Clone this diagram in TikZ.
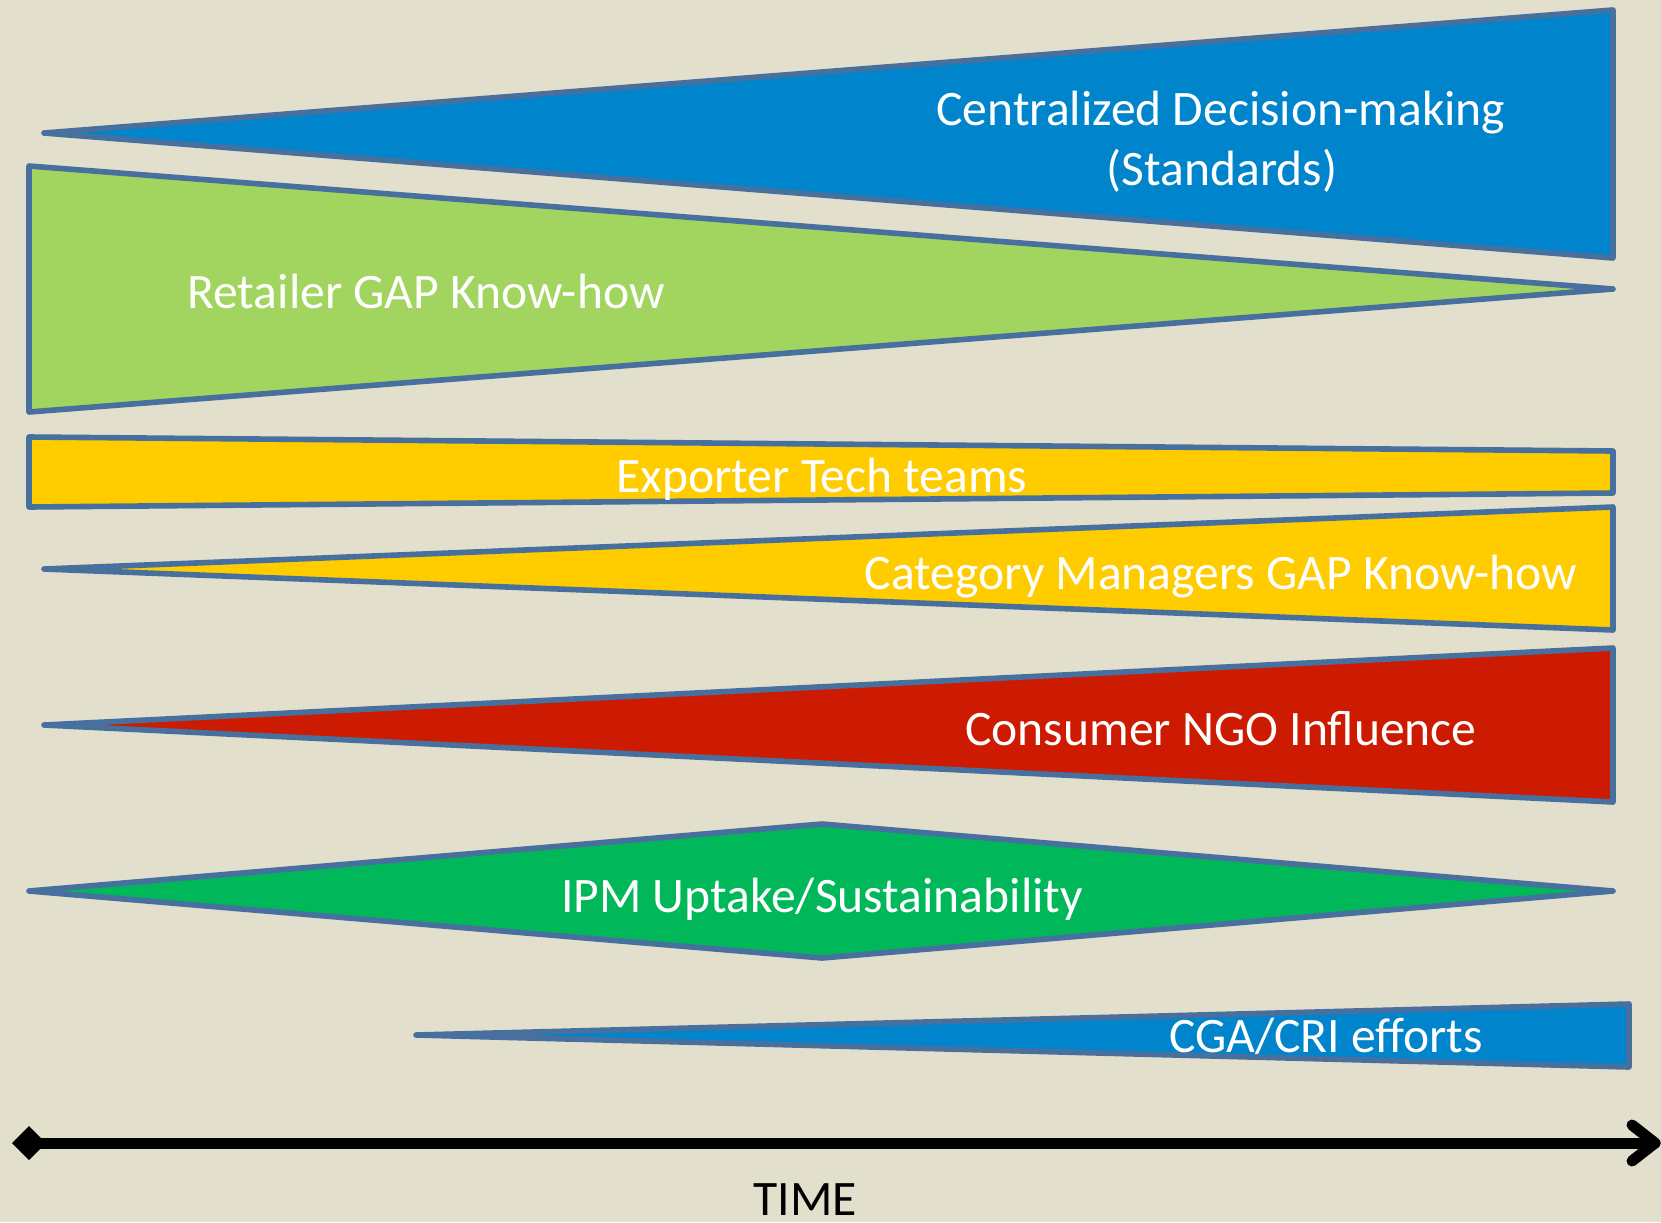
\documentclass[tikz,border=0pt]{standalone}
\usepackage{fontspec}
\setmainfont{Carlito}
\definecolor{bg}{RGB}{226,223,204}
\definecolor{edge}{RGB}{71,112,158}
\definecolor{cblue}{RGB}{0,132,204}
\definecolor{lgreen}{RGB}{161,213,96}
\definecolor{cyellow}{RGB}{255,204,0}
\definecolor{cred}{RGB}{204,27,0}
\definecolor{cgreen}{RGB}{0,184,90}
\begin{document}
\begin{tikzpicture}[x=0.5pt,y=-0.5pt,
  band/.style={draw=edge,line width=2.8pt,line join=round,line cap=round},
  lbl/.style={text=white,font=\fontsize{24.8}{30}\selectfont,inner sep=0pt,anchor=base},
  axisline/.style={line width=5.5pt,line cap=round,line join=round,black}]
\fill[bg] (0,0) rectangle (1661,1222);
\useasboundingbox (0,0) rectangle (1661,1222);
% bands
\draw[band,fill=cblue] (44,133) -- (1613,10) -- (1613,258) -- cycle;
\draw[band,fill=lgreen] (29,166) -- (1613,289) -- (29,412) -- cycle;
\draw[band,fill=cyellow] (29,437) -- (1613,451) -- (1613,493) -- (29,507) -- cycle;
\draw[band,fill=cyellow] (44,569) -- (1613,507) -- (1613,630) -- cycle;
\draw[band,fill=cred] (44,725) -- (1613,648) -- (1613,802) -- cycle;
\draw[band,fill=cgreen] (29,891) -- (822,824) -- (1613,891) -- (822,958) -- cycle;
\draw[band,fill=cblue] (416,1035) -- (1629,1004) -- (1629,1067) -- cycle;
% labels
\node[lbl] (cdm) at (1221,125) {Centralized Decision-making};
\node[lbl] (std) at (1222,185) {(Standards)};
\node[lbl,anchor=base west] (rgk) at (187,308) {Retailer GAP Know-how};
\node[lbl] (ett) at (822,492) {Exporter Tech teams};
\node[lbl] (cmg) at (1221,589) {Category Managers GAP Know-how};
\node[lbl] (cni) at (1221,745) {Consumer NGO Influence};
\node[lbl] (ipm) at (822,912) {IPM Uptake/Sustainability};
\node[lbl] (cga) at (1326,1052) {CGA/CRI efforts};
% time axis
\coordinate (t0) at (29,1143);
\coordinate (t1) at (1655,1143);
\coordinate (a1) at (1632,1125);
\coordinate (a2) at (1632,1161);
\fill[black] (12,1143) -- (29,1126) -- (46,1143) -- (29,1160) -- cycle;
\draw[axisline] (t0) -- (t1);
\draw[axisline] (a1) -- (t1) -- (a2);
\node[lbl,text=black] (time) at (805,1215) {TIME};
\end{tikzpicture}
\end{document}
